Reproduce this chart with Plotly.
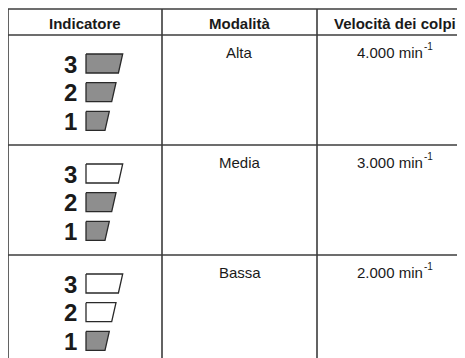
import plotly.graph_objects as go

# ---- data ----
headers = ["Indicatore", "Modalità", "Velocità dei colpi"]
modes = ["Alta", "Media", "Bassa"]
speeds = ["4.000", "3.000", "2.000"]
speed_unit = "min"
speed_exp = "-1"
active_levels = [3, 2, 1]          # number of lit indicator segments per mode
indicator_levels = [3, 2, 1]       # labels shown top -> bottom

# ---- layout constants (page pixels) ----
W, H = 465, 358
OFF = 8                            # default page body margin
col_x = [8, 162, 317, 471]
row_y = [9, 35, 145, 255, 400]
line_col = "#3c3c3c"
gray = "#8e8e8e"
FONT = "Arial, Liberation Sans, Helvetica, sans-serif"

fig = go.Figure()

# indicator trapezoids
box_left = 86
box_h = 19
for r, act in enumerate(active_levels):
    top0 = row_y[r + 1] + 19
    for i, lvl in enumerate(indicator_levels):
        t = top0 + i * 28.7
        b = t + box_h
        tw = 23.3 + (lvl - 1) * 6.7
        bw = tw - 4.3
        fig.add_trace(go.Scatter(
            x=[box_left, box_left + tw, box_left + bw, box_left, box_left],
            y=[t, t, b, b, t],
            mode="lines", fill="toself",
            fillcolor=gray if lvl <= act else "white",
            line=dict(color="#2a2a2a", width=1.3),
            hoverinfo="skip", showlegend=False))
        fig.add_annotation(x=70, y=(t + b) / 2 + 0.5, text=f"<b>{lvl}</b>",
                           showarrow=False, xanchor="center", yanchor="middle",
                           font=dict(family=FONT, size=24, color="#1a1a1a"))

# table lines
shapes = []
for yy in row_y[:4]:
    shapes.append(dict(type="line", x0=col_x[0], x1=W + 5, y0=yy, y1=yy))
for xx in col_x[:3]:
    shapes.append(dict(type="line", x0=xx, x1=xx, y0=row_y[0], y1=H + 5))
for s in shapes:
    s.update(xref="x", yref="y", line=dict(color=line_col, width=1.6), layer="above")
fig.update_layout(shapes=shapes)

# header text
for c, h in enumerate(headers):
    fig.add_annotation(x=(col_x[c] + col_x[c + 1]) / 2 + (1 if c == 2 else 0), y=23.5,
                       text=f"<b>{h}</b>", showarrow=False,
                       xanchor="center", yanchor="middle",
                       font=dict(family=FONT, size=15, color="#1a1a1a"))

# body text
sup_x = 424
for r in range(len(modes)):
    yy = row_y[r + 1] + 17
    fig.add_annotation(x=(col_x[1] + col_x[2]) / 2, y=yy, text=modes[r],
                       showarrow=False, xanchor="center", yanchor="middle",
                       font=dict(family=FONT, size=15, color="#1a1a1a"))
    fig.add_annotation(x=sup_x, y=yy, text=f"{speeds[r]} {speed_unit}",
                       showarrow=False, xanchor="right", yanchor="middle",
                       xshift=1, font=dict(family=FONT, size=15, color="#1a1a1a"))
    fig.add_annotation(x=sup_x, y=yy - 5.5, text=speed_exp,
                       showarrow=False, xanchor="left", yanchor="middle",
                       xshift=-2, font=dict(family=FONT, size=10, color="#1a1a1a"))

fig.update_layout(
    width=W - OFF, height=H - OFF,
    margin=dict(l=0, r=0, t=0, b=0),
    paper_bgcolor="white", plot_bgcolor="white",
    xaxis=dict(range=[OFF, W], visible=False, fixedrange=True),
    yaxis=dict(range=[H, OFF], visible=False, fixedrange=True),
    showlegend=False,
)
fig.write_html("out.html", config=dict(displayModeBar=False))
